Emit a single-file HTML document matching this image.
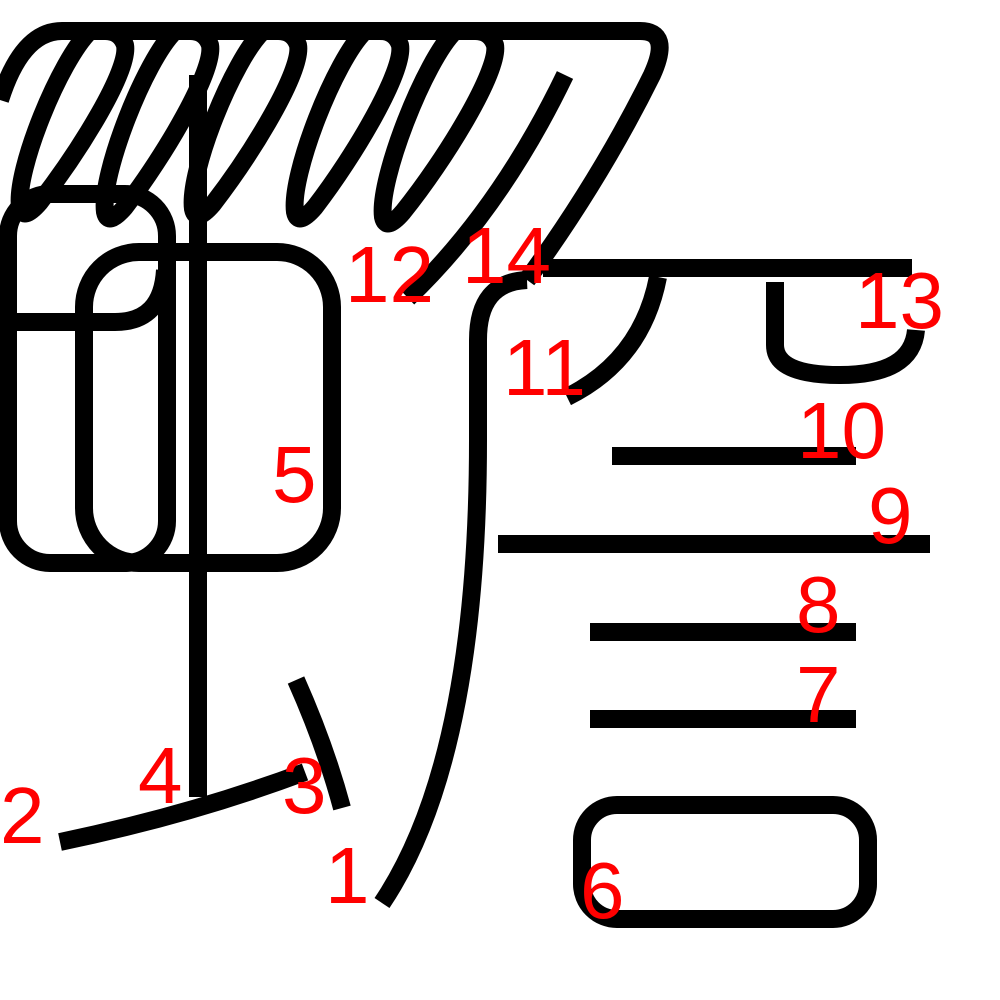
<!DOCTYPE html>
<html><head><meta charset="utf-8"><style>
html,body{margin:0;padding:0;background:#fff;width:1000px;height:1000px;overflow:hidden}
svg{display:block}
text{font-family:"Liberation Sans",sans-serif;font-size:80px;fill:#ff0000}
</style></head><body>
<svg width="1000" height="1000" viewBox="0 0 1000 1000">
<g fill="none" stroke="#000" stroke-width="18" stroke-linejoin="round">
  <path d="M0,100 Q22,31 62,31 L640,31 Q672,31 652,75 Q600,180 527,280"/>
  <path d="M90,31 C60,60 15,170 20,207 Q23,222 40,202 C80,150 130,70 125,45 Q120,31 105,31"/>
  <path d="M175,31 C145,60 100,175 105,212 Q108,227 125,207 C165,155 215,70 210,45 Q205,31 190,31"/>
  <path d="M263,31 C233,60 188,172 193,209 Q196,224 213,204 C253,152 303,70 298,45 Q293,31 278,31"/>
  <path d="M365,31 C335,60 290,175 295,212 Q298,227 315,207 C355,155 405,70 400,45 Q395,31 380,31"/>
  <path d="M455,31 C425,60 378,180 383,217 Q386,232 403,212 C445,160 500,70 495,45 Q490,31 475,31"/>
  <path d="M565,75 Q500,210 408,298"/>
  <path stroke-linecap="butt" d="M198,75 L198,797"/>
  <rect x="8" y="194" width="159" height="369" rx="42"/>
  <path d="M8,322 L115,322 Q162,322 165,270"/>
  <rect x="84" y="252" width="248" height="311" rx="55"/>
  <path stroke-linecap="butt" d="M60,842 Q190,815 305,772"/>
  <path stroke-linecap="butt" d="M296,680 Q325,745 342,808"/>
  <path stroke-linecap="butt" d="M527,280 Q478,282 478,340 L478,440 Q478,760 382,903"/>
  <path stroke-linecap="butt" d="M543,268 L912,268"/>
  <path stroke-linecap="butt" d="M567,397 Q642,360 658,277"/>
  <path stroke-linecap="butt" d="M775,282 L775,345 Q775,375 840,375 Q912,375 916,330"/>
  <path d="M612,456 L856,456"/>
  <path d="M498,544 L930,544"/>
  <path d="M590,632 L856,632"/>
  <path d="M590,719 L856,719"/>
  <rect x="582" y="805" width="286" height="114" rx="35"/>
</g>
<g>
  <text x="325" y="903">1</text>
  <text x="0" y="843">2</text>
  <text x="282" y="813">3</text>
  <text x="138" y="803">4</text>
  <text x="272" y="502">5</text>
  <text x="580" y="918">6</text>
  <text x="796" y="722">7</text>
  <text x="796" y="632">8</text>
  <text x="868" y="543">9</text>
  <text x="797" y="458">10</text>
  <text x="503" y="395">11</text>
  <text x="345" y="302">12</text>
  <text x="855" y="328">13</text>
  <text x="462" y="283">14</text>
</g>
</svg>
</body></html>
